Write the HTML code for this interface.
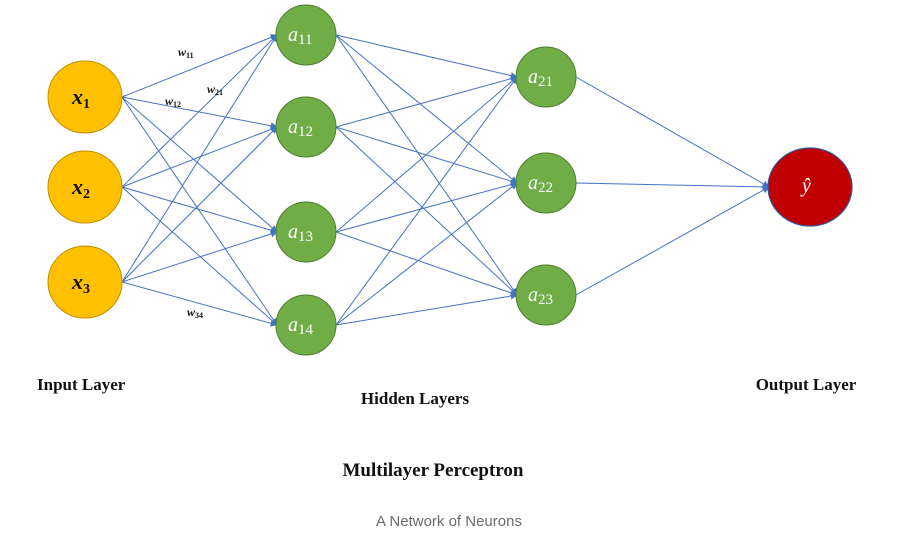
<!DOCTYPE html>
<html><head><meta charset="utf-8"><style>
html,body{margin:0;padding:0;background:#fff;}
svg{display:block;}
.ln{stroke:#4472C4;stroke-width:1;fill:none;}
.lbl{font-family:"Liberation Serif",serif;font-weight:bold;fill:#111;}
.w{font-family:"Liberation Serif",serif;font-style:italic;font-weight:bold;font-size:12px;fill:#111;}
.w tspan{font-style:normal;}
.a{font-family:"Liberation Serif",serif;font-style:italic;fill:#fff;font-size:20px;}
.s{font-family:"Liberation Serif",serif;font-style:normal;fill:#fff;font-size:15px;}
</style></head><body>
<svg width="908" height="545" viewBox="0 0 908 545" xmlns="http://www.w3.org/2000/svg">
<defs><marker id="ar" viewBox="0 0 10 10" refX="9" refY="5" markerWidth="7" markerHeight="7" orient="auto" markerUnits="userSpaceOnUse"><path d="M0,0 L10,5 L0,10 z" fill="#4472C4"/></marker></defs>
<g class="ln" marker-end="url(#ar)">
<line x1="122" y1="97" x2="277" y2="35"/><line x1="122" y1="97" x2="277" y2="127"/><line x1="122" y1="97" x2="277" y2="232"/><line x1="122" y1="97" x2="277" y2="325"/>
<line x1="122" y1="187" x2="277" y2="35"/><line x1="122" y1="187" x2="277" y2="127"/><line x1="122" y1="187" x2="277" y2="232"/><line x1="122" y1="187" x2="277" y2="325"/>
<line x1="122" y1="282" x2="277" y2="35"/><line x1="122" y1="282" x2="277" y2="127"/><line x1="122" y1="282" x2="277" y2="232"/><line x1="122" y1="282" x2="277" y2="325"/>
<line x1="336" y1="35" x2="517" y2="77"/><line x1="336" y1="35" x2="517" y2="183"/><line x1="336" y1="35" x2="517" y2="295"/>
<line x1="336" y1="127" x2="517" y2="77"/><line x1="336" y1="127" x2="517" y2="183"/><line x1="336" y1="127" x2="517" y2="295"/>
<line x1="336" y1="232" x2="517" y2="77"/><line x1="336" y1="232" x2="517" y2="183"/><line x1="336" y1="232" x2="517" y2="295"/>
<line x1="336" y1="325" x2="517" y2="77"/><line x1="336" y1="325" x2="517" y2="183"/><line x1="336" y1="325" x2="517" y2="295"/>
<line x1="576" y1="77" x2="769" y2="187"/><line x1="576" y1="183" x2="769" y2="187"/><line x1="576" y1="295" x2="769" y2="187"/>
</g>
<g fill="#FFC000" stroke="#BF9000" stroke-width="1">
<ellipse cx="85" cy="97" rx="37" ry="36"/><ellipse cx="85" cy="187" rx="37" ry="36"/><ellipse cx="85" cy="282" rx="37" ry="36"/>
</g>
<g fill="#70AD47" stroke="#507E32" stroke-width="1">
<circle cx="306" cy="35" r="30"/><circle cx="306" cy="127" r="30"/><circle cx="306" cy="232" r="30"/><circle cx="306" cy="325" r="30"/>
<circle cx="546" cy="77" r="30"/><circle cx="546" cy="183" r="30"/><circle cx="546" cy="295" r="30"/>
</g>
<ellipse cx="810" cy="187" rx="42" ry="39" fill="#C00000" stroke="#2F5597" stroke-width="1.2"/>
<g font-family="Liberation Serif,serif" font-weight="bold" font-style="italic" font-size="22" fill="#111">
<text x="72" y="104">x<tspan font-size="14" font-style="normal" dy="4">1</tspan></text>
<text x="72" y="194">x<tspan font-size="14" font-style="normal" dy="4">2</tspan></text>
<text x="72" y="289">x<tspan font-size="14" font-style="normal" dy="4">3</tspan></text>
</g>
<text class="a" x="288" y="41">a<tspan class="s" dy="3">11</tspan></text>
<text class="a" x="288" y="133">a<tspan class="s" dy="3">12</tspan></text>
<text class="a" x="288" y="238">a<tspan class="s" dy="3">13</tspan></text>
<text class="a" x="288" y="331">a<tspan class="s" dy="3">14</tspan></text>
<text class="a" x="528" y="83">a<tspan class="s" dy="3">21</tspan></text>
<text class="a" x="528" y="189">a<tspan class="s" dy="3">22</tspan></text>
<text class="a" x="528" y="301">a<tspan class="s" dy="3">23</tspan></text>
<text class="a" x="802" y="192">ŷ</text>
<text class="w" x="178" y="56">w<tspan font-size="8" dy="2">11</tspan></text>
<text class="w" x="207" y="93">w<tspan font-size="8" dy="2">21</tspan></text>
<text class="w" x="165" y="105">w<tspan font-size="8" dy="2">12</tspan></text>
<text class="w" x="187" y="316">w<tspan font-size="8" dy="2">34</tspan></text>
<text class="lbl" x="37" y="390" font-size="17">Input Layer</text>
<text class="lbl" x="415" y="404" font-size="17" text-anchor="middle">Hidden Layers</text>
<text class="lbl" x="806" y="390" font-size="17" text-anchor="middle">Output Layer</text>
<text class="lbl" x="433" y="476" font-size="19" text-anchor="middle">Multilayer Perceptron</text>
<text x="449" y="526" font-family="Liberation Sans,sans-serif" font-size="15" fill="#6b6b6b" text-anchor="middle">A Network of Neurons</text>
</svg>
</body></html>
